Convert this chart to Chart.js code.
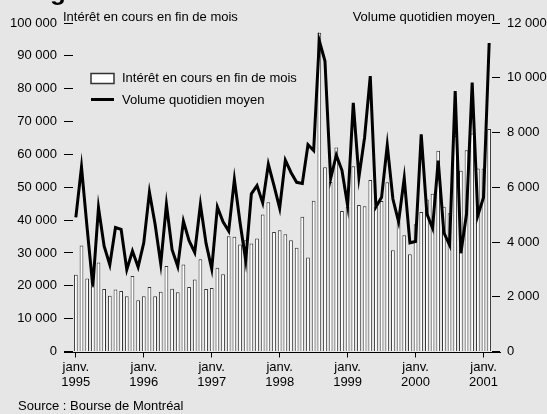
<!DOCTYPE html>
<html>
<head>
<meta charset="utf-8">
<script src="https://cdn.jsdelivr.net/npm/chart.js"></script>
<style>
  html, body { margin: 0; padding: 0; background: #e6e6e6; }
  #wrap { width: 547px; height: 414px; }
</style>
</head>
<body>
<div id="wrap"><canvas id="chart" width="547" height="414"></canvas></div>
<script>
// Months: janv. 1995 .. févr. 2001
const years = ['1995', '1996', '1997', '1998', '1999', '2000', '2001'];
const monthNames = ['janv.', 'févr.', 'mars', 'avr.', 'mai', 'juin', 'juil.', 'août', 'sept.', 'oct.', 'nov.', 'déc.'];
const categories = [];
years.forEach(y => monthNames.forEach(m => categories.push(m + ' ' + y)));
categories.splice(74);

// Intérêt en cours en fin de mois (contrats)
const openInterest = [
  23400, 32300, 22200, 19800, 27100, 19000, 17000, 18900, 18400, 16800, 23000, 15600,
  16800, 19600, 16800, 18200, 26000, 19100, 18000, 26500, 19600, 21900, 28100, 19000,
  19300, 25500, 23500, 35100, 34900, 32600, 33900, 32900, 34400, 41700, 45400, 36400,
  36900, 35700, 33900, 31600, 41000, 28600, 45900, 97000, 56100, 51600, 62100, 42800,
  44000, 56400, 44600, 44200, 52200, 44000, 45800, 51500, 30800, 39500, 35400, 29600,
  38700, 42500, 46300, 48000, 61100, 44100, 42100, 65600, 55000, 61300, 66400, 55700,
  55700, 67700
];

// Volume quotidien moyen (contrats)
const dailyVolume = [
  4900, 6740, 4500, 2370, 5260, 3850, 3170, 4530, 4460, 2990, 3670, 3090,
  3970, 5820, 4650, 3200, 5370, 3720, 3110, 4760, 4050, 3620, 5370, 3950,
  3020, 5280, 4740, 4400, 6280, 4710, 3330, 5760, 6060, 5430, 6840, 6060,
  5235, 6990, 6540, 6180, 6140, 7550, 7340, 11350, 10610, 6310, 7170, 6620,
  5330, 9080, 6370, 7820, 10060, 5280, 5630, 7540, 5570, 4740, 6330, 3970,
  4020, 7930, 5030, 4510, 6970, 4340, 3890, 9510, 3590, 5020, 9820, 4970,
  5630, 11270
];

const leftTitle = 'Intérêt en cours en fin de mois';
const rightTitle = 'Volume quotidien moyen';
const sourceText = 'Source : Bourse de Montréal';

const FONT = '"Liberation Sans", Arial, sans-serif';
Chart.defaults.font.family = FONT;
Chart.defaults.font.size = 13;
Chart.defaults.color = '#000';

function spaced(v) {
  return String(v).replace(/\B(?=(\d{3})+(?!\d))/g, ' ');
}

// titles, legend, source line and the extended base line
const decorations = {
  id: 'decorations',
  afterDraw(chart) {
    const { ctx, chartArea } = chart;
    ctx.save();
    ctx.fillStyle = '#000';
    ctx.font = '13px ' + FONT;
    ctx.textBaseline = 'alphabetic';

    ctx.textAlign = 'left';
    ctx.fillText(leftTitle, 63, 20.5);
    ctx.textAlign = 'right';
    ctx.fillText(rightTitle, 495, 20.5);

    // base line
    ctx.strokeStyle = '#000';
    ctx.lineWidth = 1;
    ctx.beginPath();
    ctx.moveTo(chartArea.left - 9, Math.round(chartArea.bottom) + 0.5);
    ctx.lineTo(chartArea.right + 9, Math.round(chartArea.bottom) + 0.5);
    ctx.stroke();

    // legend
    ctx.fillStyle = '#fff';
    ctx.fillRect(91, 73.5, 23, 10);
    ctx.strokeStyle = '#333';
    ctx.lineWidth = 1.5;
    ctx.strokeRect(91, 73.5, 23, 10);
    ctx.strokeStyle = '#000';
    ctx.lineWidth = 3;
    ctx.beginPath();
    ctx.moveTo(91, 99.5);
    ctx.lineTo(114, 99.5);
    ctx.stroke();
    ctx.fillStyle = '#000';
    ctx.textAlign = 'left';
    ctx.textBaseline = 'middle';
    ctx.fillText(leftTitle, 122, 78.5);
    ctx.fillText(rightTitle, 122, 100);

    // source
    ctx.textBaseline = 'alphabetic';
    ctx.fillText(sourceText, 18, 410);

    // cropped heading above the chart
    ctx.font = 'bold 26px ' + FONT;
    ctx.fillText('g', 50, 0);
    ctx.restore();
  }
};

new Chart(document.getElementById('chart'), {
  data: {
    labels: categories,
    datasets: [
      {
        type: 'line',
        label: rightTitle,
        data: dailyVolume,
        yAxisID: 'y1',
        borderColor: '#000',
        borderWidth: 3,
        pointRadius: 0,
        tension: 0,
        fill: false,
        order: 1
      },
      {
        type: 'bar',
        label: leftTitle,
        data: openInterest,
        yAxisID: 'y',
        backgroundColor: '#fff',
        borderColor: '#333',
        borderWidth: 1,
        categoryPercentage: 1,
        barPercentage: 0.66,
        order: 2
      }
    ]
  },
  options: {
    responsive: false,
    animation: false,
    devicePixelRatio: 1,
    layout: { padding: { left: 0, right: 0, top: 23, bottom: 22.5 } },
    plugins: {
      legend: { display: false },
      tooltip: { enabled: false }
    },
    scales: {
      x: {
        type: 'category',
        offset: true,
        border: { display: false },
        grid: {
          offset: false,
          drawOnChartArea: false,
          drawTicks: true,
          tickLength: 6,
          color: ctx => (ctx.index % 12 === 0 ? '#000' : 'rgba(0,0,0,0)')
        },
        ticks: {
          autoSkip: false,
          maxRotation: 0,
          padding: 2,
          font: { size: 13, lineHeight: 1.2 },
          callback: (v, i) => (i % 12 === 0 ? ['janv.', years[i / 12]] : '')
        },
        afterFit: s => { s.height = 40; }
      },
      y: {
        position: 'left',
        min: 0,
        max: 100000,
        border: { display: false },
        grid: { drawOnChartArea: false, tickLength: 9, color: '#000' },
        ticks: { stepSize: 10000, padding: 7, callback: v => spaced(v) },
        afterFit: s => { s.width = 73; }
      },
      y1: {
        position: 'right',
        min: 0,
        max: 12000,
        border: { display: false },
        grid: { drawOnChartArea: false, tickLength: 8, color: '#000' },
        ticks: { stepSize: 2000, padding: 7, callback: v => spaced(v) },
        afterFit: s => { s.width = 55; }
      }
    }
  },
  plugins: [decorations]
});
</script>
</body>
</html>
